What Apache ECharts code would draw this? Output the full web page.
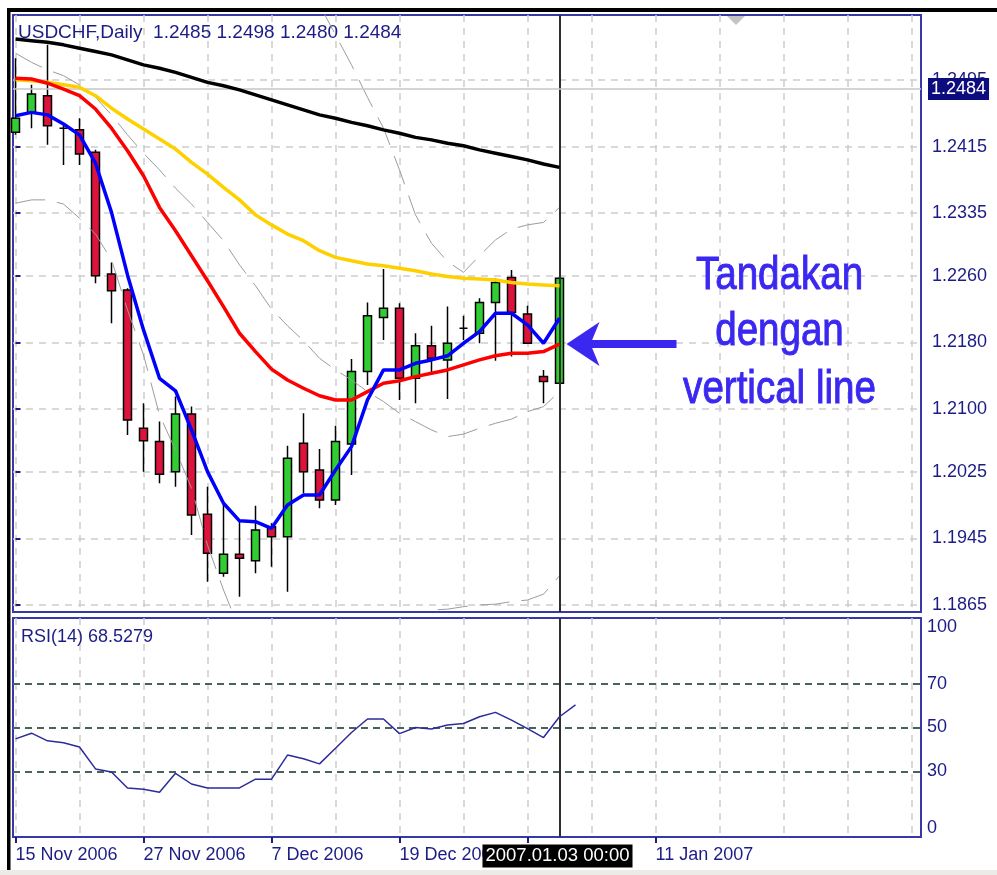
<!DOCTYPE html>
<html>
<head>
<meta charset="utf-8">
<script src="https://cdn.jsdelivr.net/npm/echarts@6/dist/echarts.min.js"></script>
<style>
  html, body { margin: 0; padding: 0; background: #ffffff; }
  #chart { position: absolute; left: 0; top: 0; width: 997px; height: 875px; }
</style>
</head>
<body>
<div id="chart"></div>
<script>
// USDCHF daily bars, 15 Nov 2006 - 3 Jan 2007, with four moving averages,
// Bollinger bands (20) and an RSI(14) sub-window.

const symbolName = 'USDCHF,Daily';
const ohlcNow = [1.2485, 1.2498, 1.2480, 1.2484];
const lastPrice = 1.2484;
const rsiNow = 68.5279;

// x positions are trading-day indexes (0 = 15 Nov 2006)
const dateTicks = [0, 8, 16, 24, 32, 40];
const dateLabels = ['15 Nov 2006', '27 Nov 2006', '7 Dec 2006', '19 Dec 2006', '29 Dec 2006', '11 Jan 2007'];
const gridDays = [0, 4, 8, 12, 16, 20, 24, 28, 32, 36, 40, 44, 48, 52, 56];
const markedDay = 34;
const markedLabel = '2007.01.03 00:00';

const priceTicks = [1.1865, 1.1945, 1.2025, 1.2100, 1.2180, 1.2260, 1.2335, 1.2415, 1.2495];
const rsiTicks = [0, 30, 50, 70, 100];
const rsiLevels = [30, 50, 70];

const opens  = [1.2432, 1.2455, 1.2476, 1.2437, 1.2435, 1.2408, 1.2262, 1.2243, 1.2077, 1.2061,
                1.2025, 1.2094, 1.1974, 1.1903, 1.1926, 1.1918, 1.1959, 1.1947, 1.2059, 1.2027,
                1.1991, 1.2058, 1.2145, 1.2210, 1.2221, 1.2137, 1.2176, 1.2159, 1.2197, 1.2191,
                1.2228, 1.2258, 1.2214, 1.2139, 1.2131];
const closes = [1.2449, 1.2478, 1.2440, 1.2437, 1.2406, 1.2260, 1.2242, 1.2087, 1.2062, 1.2022,
                1.2094, 1.1973, 1.1927, 1.1926, 1.1921, 1.1955, 1.1947, 1.2041, 1.2025, 1.1991,
                1.2061, 1.2145, 1.2212, 1.2221, 1.2137, 1.2176, 1.2161, 1.2179, 1.2197, 1.2228,
                1.2252, 1.2216, 1.2179, 1.2133, 1.2257];
const lows   = [1.2429, 1.2437, 1.2417, 1.2393, 1.2393, 1.2251, 1.2203, 1.2069, 1.2025, 1.2011,
                1.2007, 1.1949, 1.1893, 1.1899, 1.1875, 1.1903, 1.1911, 1.1881, 1.1999, 1.1981,
                1.1985, 1.2021, 1.2129, 1.2183, 1.2111, 1.2107, 1.2141, 1.2112, 1.2183, 1.2179,
                1.2158, 1.2163, 1.2179, 1.2107, 1.2131];
const highs  = [1.2521, 1.2489, 1.2537, 1.2443, 1.2449, 1.2411, 1.2276, 1.2245, 1.2107, 1.2085,
                1.2115, 1.2103, 1.2007, 1.1987, 1.1965, 1.1984, 1.1963, 1.2056, 1.2095, 1.2052,
                1.2080, 1.2160, 1.2228, 1.2268, 1.2227, 1.2191, 1.2200, 1.2223, 1.2212, 1.2233,
                1.2257, 1.2267, 1.2224, 1.2147, 1.2259];

const blueMA   = [1.2452, 1.2456, 1.2453, 1.2442, 1.2429, 1.2395, 1.2336, 1.2261, 1.2195, 1.2137,
                  1.2122, 1.2075, 1.2025, 1.1987, 1.1966, 1.1965, 1.1957, 1.1985, 1.1997, 1.1997,
                  1.2027, 1.2055, 1.2111, 1.2147, 1.2147, 1.2155, 1.2159, 1.2164, 1.2179, 1.2193,
                  1.2215, 1.2215, 1.2201, 1.2179, 1.2209];
const redMA    = [1.2497, 1.2496, 1.2491, 1.2484, 1.2476, 1.2460, 1.2437, 1.2410, 1.2380, 1.2342,
                  1.2314, 1.2284, 1.2254, 1.2223, 1.2191, 1.2169, 1.2148, 1.2135, 1.2125, 1.2116,
                  1.2111, 1.2111, 1.2121, 1.2131, 1.2134, 1.2139, 1.2143, 1.2147, 1.2153, 1.2159,
                  1.2164, 1.2167, 1.2167, 1.2169, 1.2178];
const yellowMA = [1.2495, 1.2494, 1.2492, 1.2489, 1.2486, 1.2476, 1.2461, 1.2448, 1.2436, 1.2424,
                  1.2412, 1.2396, 1.2382, 1.2366, 1.2351, 1.2333, 1.2321, 1.2310, 1.2302, 1.2290,
                  1.2282, 1.2278, 1.2274, 1.2272, 1.2269, 1.2266, 1.2262, 1.2259, 1.2257, 1.2256,
                  1.2255, 1.2252, 1.2250, 1.2249, 1.2248];
const blackMA  = [1.2544, 1.2542, 1.2540, 1.2537, 1.2533, 1.2529, 1.2525, 1.2519, 1.2513, 1.2509,
                  1.2504, 1.2498, 1.2492, 1.2488, 1.2483, 1.2477, 1.2471, 1.2465, 1.2459, 1.2453,
                  1.2449, 1.2444, 1.2440, 1.2435, 1.2431, 1.2426, 1.2423, 1.2419, 1.2416, 1.2411,
                  1.2407, 1.2403, 1.2399, 1.2394, 1.2390];

const bbUpper  = [1.2707, 1.2682, 1.2663, 1.2653, 1.2648, 1.2639, 1.2627, 1.2639, 1.2642, 1.2681,
                  1.2680, 1.2687, 1.2712, 1.2720, 1.2711, 1.2699, 1.2675, 1.2645, 1.2615, 1.2585,
                  1.2549, 1.2513, 1.2474, 1.2437, 1.2387, 1.2333, 1.2299, 1.2277, 1.2264, 1.2284,
                  1.2303, 1.2316, 1.2321, 1.2324, 1.2342];
const bbMiddle = [1.2527, 1.2516, 1.2507, 1.2500, 1.2489, 1.2474, 1.2453, 1.2429, 1.2407, 1.2387,
                  1.2365, 1.2346, 1.2324, 1.2302, 1.2273, 1.2248, 1.2220, 1.2200, 1.2182, 1.2161,
                  1.2147, 1.2135, 1.2121, 1.2109, 1.2095, 1.2085, 1.2075, 1.2067, 1.2070, 1.2077,
                  1.2083, 1.2088, 1.2097, 1.2103, 1.2121];
const bbLower  = [1.2347, 1.2351, 1.2351, 1.2346, 1.2329, 1.2310, 1.2279, 1.2219, 1.2165, 1.2093,
                  1.2051, 1.2005, 1.1937, 1.1883, 1.1835, 1.1797, 1.1765, 1.1755, 1.1749, 1.1738,
                  1.1745, 1.1757, 1.1767, 1.1780, 1.1804, 1.1845, 1.1859, 1.1860, 1.1863, 1.1865,
                  1.1866, 1.1869, 1.1871, 1.1878, 1.1900];

const rsi14 = [44.8, 47.4, 43.9, 43.0, 41.1, 31.1, 29.7, 22.4, 21.8, 20.4,
               29.1, 24.2, 22.4, 22.4, 22.4, 26.4, 26.4, 37.4, 35.7, 33.4,
               40.5, 47.7, 53.9, 53.9, 47.2, 50.0, 49.3, 51.1, 51.8, 54.9,
               56.9, 53.4, 49.5, 45.4, 54.9, 60.3];

// ---- styling ----
const NAVY = '#1c1c86';
const FRAME = '#3838a8';
const GRIDLINE = { color: '#cdcdcd', width: 1.5, type: [7, 6] };
const FONT = 'Liberation Sans';
const X_MIN = -0.15625, X_MAX = 56.59375;

const indexed = arr => arr.map((v, i) => [i, v]);
const candleData = opens.map((o, i) => [i, o, closes[i], lows[i], highs[i]]);

function maLine(name, data, color, width, z) {
  return {
    name, type: 'line', xAxisIndex: 0, yAxisIndex: 0,
    data: indexed(data), showSymbol: false, symbol: 'none', silent: true, z,
    lineStyle: { color, width }, clip: true
  };
}
function bandLine(name, data) {
  return {
    name, type: 'line', xAxisIndex: 0, yAxisIndex: 0,
    data: indexed(data), showSymbol: false, symbol: 'none', silent: true, z: 4,
    lineStyle: { color: '#9c9c9c', width: 1, type: [30, 12] }, clip: true
  };
}

const chart = echarts.init(document.getElementById('chart'), null, { renderer: 'canvas' });

const blackSeries = maLine('MA black', blackMA, '#000000', 3.5, 6);
blackSeries.markLine = {
  silent: true, symbol: ['none', 'none'], animation: false, precision: 4,
  data: [
    { xAxis: markedDay, lineStyle: { color: '#2e2e2e', width: 2, type: 'solid' }, label: { show: false } },
    {
      yAxis: lastPrice,
      lineStyle: { color: '#c6c6c6', width: 1.5, type: 'solid' },
      label: {
        show: true, position: 'end', distance: 7,
        formatter: lastPrice.toFixed(4),
        backgroundColor: '#0c0c7e', color: '#ffffff',
        fontFamily: FONT, fontSize: 18, padding: [2, 3]
      }
    }
  ]
};

const option = {
  animation: false,
  backgroundColor: '#ffffff',
  textStyle: { fontFamily: FONT },
  grid: [
    { left: 13, right: 76, top: 15, height: 597, show: true, borderColor: FRAME, borderWidth: 2, outerBoundsMode: 'none' },
    { left: 13, right: 76, top: 618, height: 219, show: true, borderColor: FRAME, borderWidth: 2, outerBoundsMode: 'none' },
    { left: 13, right: 76, top: 618, height: 219, show: false, outerBoundsMode: 'none' }
  ],
  xAxis: [
    {
      type: 'value', gridIndex: 0, min: X_MIN, max: X_MAX,
      axisLine: { show: false }, axisLabel: { show: false },
      axisTick: { show: false, customValues: gridDays },
      splitLine: { show: true, lineStyle: GRIDLINE }
    },
    {
      type: 'value', gridIndex: 1, min: X_MIN, max: X_MAX,
      axisLine: { show: false }, axisLabel: { show: false },
      axisTick: { show: false, customValues: gridDays },
      splitLine: { show: true, lineStyle: GRIDLINE }
    },
    {
      type: 'value', gridIndex: 2, min: X_MIN, max: X_MAX, position: 'bottom',
      axisLine: { show: false },
      axisTick: { show: true, customValues: dateTicks, length: 6, lineStyle: { color: NAVY, width: 2 } },
      axisLabel: {
        customValues: dateTicks, align: 'left', margin: 9,
        color: NAVY, fontFamily: FONT, fontSize: 18,
        formatter: v => {
          const k = dateTicks.indexOf(Math.round(v));
          return k >= 0 ? dateLabels[k] : '';
        }
      },
      splitLine: { show: false }
    }
  ],
  yAxis: [
    {
      type: 'value', gridIndex: 0, position: 'right', min: 1.18566, max: 1.25728,
      axisLine: { show: false },
      axisTick: { show: true, customValues: priceTicks, length: 5, lineStyle: { color: NAVY, width: 2 } },
      axisLabel: {
        customValues: priceTicks, margin: 11, color: NAVY, fontFamily: FONT, fontSize: 18,
        formatter: v => v.toFixed(4)
      },
      splitLine: { show: true, lineStyle: GRIDLINE }
    },
    {
      type: 'value', gridIndex: 1, position: 'right', min: 0, max: 100,
      axisLine: { show: false },
      axisTick: { show: false },
      axisLabel: {
        customValues: rsiTicks, margin: 6, color: NAVY, fontFamily: FONT, fontSize: 18,
        verticalAlignMinLabel: 'bottom', verticalAlignMaxLabel: 'top'
      },
      splitLine: { show: false }
    },
    {
      type: 'value', gridIndex: 2, min: 0, max: 100, show: false
    }
  ],
  series: [
    {
      name: 'USDCHF', type: 'candlestick', xAxisIndex: 0, yAxisIndex: 0,
      data: candleData, encode: { x: 0, y: [1, 2, 3, 4] },
      barWidth: 9, silent: true, z: 3,
      itemStyle: {
        color: '#32cd32', color0: '#dc143c',
        borderColor: '#000000', borderColor0: '#000000', borderWidth: 1.5
      }
    },
    bandLine('BB upper', bbUpper),
    bandLine('BB middle', bbMiddle),
    bandLine('BB lower', bbLower),
    blackSeries,
    maLine('MA yellow', yellowMA, '#ffd000', 3.5, 7),
    maLine('MA red', redMA, '#ff0000', 3.5, 8),
    maLine('MA blue', blueMA, '#0000ff', 3.5, 9),
    {
      name: 'RSI(14)', type: 'line', xAxisIndex: 1, yAxisIndex: 1,
      data: indexed(rsi14), showSymbol: false, symbol: 'none', silent: true, z: 5,
      lineStyle: { color: '#2c2c98', width: 1.5 },
      markLine: {
        silent: true, symbol: ['none', 'none'], animation: false, precision: 4,
        data: [
          ...rsiLevels.map(v => ({ yAxis: v, lineStyle: { color: '#4a625d', width: 2, type: [7, 5] }, label: { show: false } })),
          { xAxis: markedDay, lineStyle: { color: '#2e2e2e', width: 2, type: 'solid' }, label: { show: false } }
        ]
      }
    }
  ]
};

chart.setOption(option);

// Frame, panel captions, the time stamp of the marked day and the annotation arrow,
// placed from the chart's own coordinates.
const tip = chart.convertToPixel({ xAxisIndex: 0, yAxisIndex: 0 }, [markedDay, redMA[markedDay]]);
const markX = chart.convertToPixel({ xAxisIndex: 2 }, markedDay);
const tx = tip[0] + 7, ty = tip[1];
const NOTE = '#3b28f0';
const noteLines = ['Tandakan', 'dengan', 'vertical line'];
const noteOffsets = [-68, -12, 46];

chart.setOption({
  graphic: [
    { type: 'rect', shape: { x: 7, y: 8, width: 990, height: 4 }, style: { fill: '#000000' }, silent: true },
    { type: 'rect', shape: { x: 7, y: 8, width: 3.5, height: 862 }, style: { fill: '#000000' }, silent: true },
    { type: 'rect', shape: { x: 0, y: 870, width: 997, height: 5 }, style: { fill: '#ecebe5' }, silent: true },
    { type: 'polygon', shape: { points: [[727, 16], [745, 16], [736, 25]] }, style: { fill: '#c4c4c4' }, silent: true },
    {
      type: 'text', x: 18, y: 33, silent: true,
      style: {
        text: symbolName + '  ' + ohlcNow.map(v => v.toFixed(4)).join(' '),
        fill: NAVY, fontFamily: FONT, fontSize: 19, align: 'left', verticalAlign: 'middle'
      }
    },
    {
      type: 'text', x: 21, y: 637, silent: true,
      style: {
        text: 'RSI(14) ' + rsiNow.toFixed(4),
        fill: NAVY, fontFamily: FONT, fontSize: 18, align: 'left', verticalAlign: 'middle'
      }
    },
    {
      type: 'text', x: markX - 2, y: 856, silent: true, z: 200,
      style: {
        text: markedLabel, fill: '#ffffff', backgroundColor: '#000000',
        padding: [2, 3], fontFamily: FONT, fontSize: 18.5,
        align: 'center', verticalAlign: 'middle'
      }
    },
    {
      type: 'polygon', silent: true,
      shape: { points: [[tx, ty], [tx + 33, ty - 22], [tx + 24, ty], [tx + 33, ty + 22]] },
      style: { fill: NOTE }
    },
    { type: 'rect', silent: true, shape: { x: tx + 20, y: ty - 4, width: 90, height: 8 }, style: { fill: NOTE } },
    ...noteLines.map((t, k) => ({
      type: 'text', silent: true, x: tx + 213, y: ty + noteOffsets[k], scaleX: 0.82,
      style: {
        text: t, fill: NOTE, stroke: NOTE, lineWidth: 1,
        fontFamily: FONT, fontSize: 47, align: 'center', verticalAlign: 'middle'
      }
    }))
  ]
});
</script>
</body>
</html>
